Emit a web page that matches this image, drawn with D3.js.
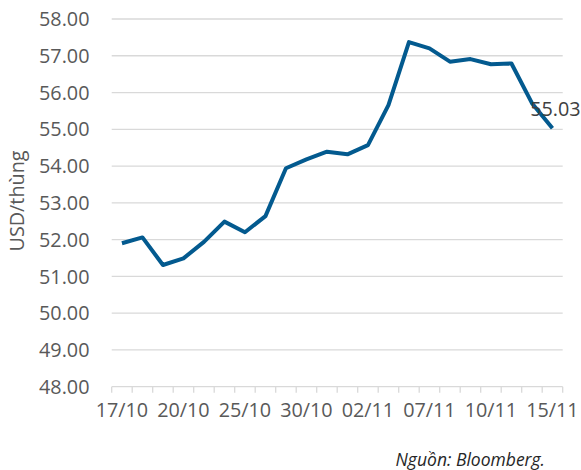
<!DOCTYPE html>
<meta charset="utf-8">
<script src="https://d3js.org/d3.v7.min.js"></script>
<style>
  body { margin: 0; background: #fff; }
  text { font-family: "Open Sans", sans-serif; }
</style>
<body>
<script>
// trading days, 17/10 - 15/11
var days = ["17/10","18/10","19/10","20/10","23/10","24/10","25/10","26/10","27/10","30/10","31/10",
            "01/11","02/11","03/11","06/11","07/11","08/11","09/11","10/11","13/11","14/11","15/11"];
var prices = [51.90, 52.06, 51.31, 51.49, 51.94, 52.49, 52.20, 52.64, 53.94, 54.18, 54.39,
              54.32, 54.57, 55.66, 57.37, 57.20, 56.84, 56.91, 56.77, 56.79, 55.71, 55.03];
var shownLabels = ["17/10","20/10","25/10","30/10","02/11","07/11","10/11","15/11"];
var yTicks = [48, 49, 50, 51, 52, 53, 54, 55, 56, 57, 58];

var width = 581, height = 470;
var margin = {top: 19, right: 18.3, bottom: 83.3, left: 111.7};

var svg = d3.select("body").append("svg")
    .attr("width", width)
    .attr("height", height);

var x = d3.scaleBand(d3.range(days.length), [margin.left, width - margin.right]);
var y = d3.scaleLinear([48, 58], [height - margin.bottom, margin.top]);

// gridlines
svg.append("g")
  .selectAll("line")
  .data(yTicks.slice(1))
  .join("line")
    .attr("x1", margin.left)
    .attr("x2", width - margin.right)
    .attr("y1", d => y(d))
    .attr("y2", d => y(d))
    .attr("stroke", "#d9d9d9")
    .attr("stroke-width", 1.3);

// y tick labels
svg.append("g")
    .attr("text-anchor", "end")
    .attr("font-size", 19.8)
    .attr("fill", "#595959")
  .selectAll("text")
  .data(yTicks)
  .join("text")
    .attr("x", 89.5)
    .attr("y", d => y(d))
    .attr("dy", "0.36em")
    .text(d => d.toFixed(2));

// x axis line + tick marks at category boundaries
var x0 = y(48);
svg.append("line")
    .attr("x1", margin.left).attr("x2", width - margin.right)
    .attr("y1", x0).attr("y2", x0)
    .attr("stroke", "#d9d9d9").attr("stroke-width", 1.3);

var bounds = d3.range(days.length).map(i => x(i)).concat([x.range()[1]]);
svg.append("g")
  .selectAll("line")
  .data(bounds)
  .join("line")
    .attr("x1", d => d).attr("x2", d => d)
    .attr("y1", x0).attr("y2", x0 + 6)
    .attr("stroke", "#d9d9d9").attr("stroke-width", 1.3);

// x labels
svg.append("g")
    .attr("text-anchor", "middle")
    .attr("font-size", 19.8)
    .attr("fill", "#595959")
  .selectAll("text")
  .data(shownLabels)
  .join("text")
    .attr("x", d => x(days.indexOf(d)) + x.bandwidth() / 2)
    .attr("y", 416.5)
    .text(d => d);

// y axis title
svg.append("text")
    .attr("transform", "translate(24,201) rotate(-90)")
    .attr("text-anchor", "middle")
    .attr("font-size", 19.8)
    .attr("fill", "#595959")
    .text("USD/thùng");

// price line
var line = d3.line()
    .x((d, i) => x(i) + x.bandwidth() / 2)
    .y(d => y(d));

svg.append("path")
    .datum(prices)
    .attr("fill", "none")
    .attr("stroke", "#035a8f")
    .attr("stroke-width", 4)
    .attr("stroke-linejoin", "round")
    .attr("d", line);

// last value label
var last = prices.length - 1;
svg.append("text")
    .attr("x", x(last) + x.bandwidth() / 2 + 3)
    .attr("y", y(prices[last]) - 12)
    .attr("text-anchor", "middle")
    .attr("font-size", 19.8)
    .attr("fill", "#404040")
    .text(prices[last].toFixed(2));

// source
svg.append("text")
    .attr("x", 545)
    .attr("y", 466)
    .attr("text-anchor", "end")
    .attr("font-size", 17.5)
    .attr("font-style", "italic")
    .attr("fill", "#262626")
    .text("Nguồn: Bloomberg.");
</script>
</body>
